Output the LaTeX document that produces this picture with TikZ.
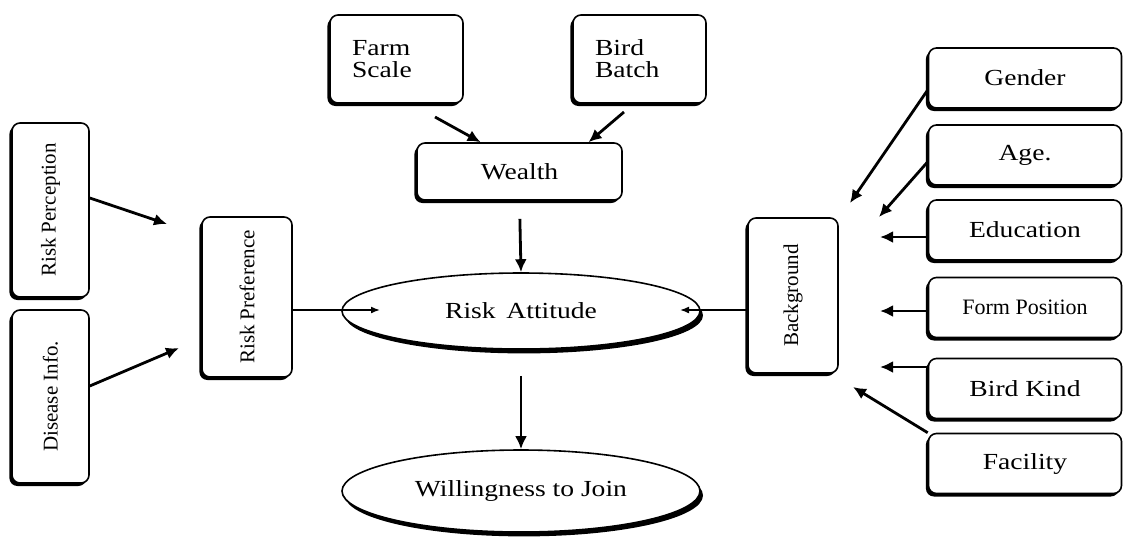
\documentclass[tikz,border=0pt]{standalone}
\usepackage{graphicx}
\usepackage{fontspec}
\setmainfont{Liberation Serif}[FakeStretch=1.2]
\newfontfamily\plainserif{Liberation Serif}
\usetikzlibrary{shapes.geometric,shadows,arrows.meta}
\begin{document}
\begin{tikzpicture}[x=.5pt,y=-.5pt,
        box/.style={draw,line width=.8pt,rounded corners=4pt,fill=white,inner sep=0pt,
            drop shadow={shadow xshift=-1.3pt,shadow yshift=-1.5pt,opacity=1,fill=black}},
        oval/.style={draw,ellipse,line width=.8pt,fill=white,inner sep=0pt,
            drop shadow={shadow xshift=1.5pt,shadow yshift=-2.2pt,opacity=1,fill=black}},
        txt/.style={font=\fontsize{11.5}{11}\selectfont},
        vtxt/.style={font=\plainserif\fontsize{10.5}{12}\selectfont},
        arr/.style={->,line width=1.4pt},
        thinarr/.style={->,line width=.8pt,>={Latex[length=4.5pt,width=3.5pt]}},
        >={Latex[length=6.5pt,width=6pt]}]
                \path[use as bounding box,fill=white] (0,0) rectangle (1126,543);
                \node[box,minimum width=66.5pt,minimum height=44pt,text width=44.5pt,align=left,txt] (scale) at (396.5,59) {Farm\\Scale};
                \node[box,minimum width=66.5pt,minimum height=44pt,text width=44.5pt,align=left,txt] (batch) at (639.5,59) {Bird\\Batch};
                \node[box,minimum width=102.5pt,minimum height=28.5pt,txt] (wealth) at (519.5,171.5) {Wealth};
                \node[oval,minimum width=179pt,minimum height=38pt,txt] (att) at (521,311) {Risk\, Attitude};
                \node[oval,minimum width=179pt,minimum height=41pt,txt] (join) at (521,491) {Willingness to Join};
                \node[box,minimum width=38.5pt,minimum height=87pt,vtxt] (perc) at (50.5,210) {\rotatebox{90}{Risk Perception}};
                \node[box,minimum width=38.5pt,minimum height=86.5pt,vtxt] (dis) at (50.5,396.5) {\rotatebox{90}{Disease Info.}};
                \node[box,minimum width=45pt,minimum height=80pt,vtxt] (pref) at (247,297) {\rotatebox{90}{Risk Preference}};
                \node[box,minimum width=45pt,minimum height=77.5pt,vtxt] (bg) at (793,295.5) {\rotatebox{90}{Background}};
                \node[box,minimum width=96.5pt,minimum height=30pt,txt] (gender) at (1025,78) {Gender};
                \node[box,minimum width=96.5pt,minimum height=30pt,txt] (age) at (1025,155) {Age.};
                \node[box,minimum width=96.5pt,minimum height=30pt,txt] (edu) at (1025,230) {Education};
                \node[box,minimum width=96.5pt,minimum height=30pt,font=\plainserif\fontsize{11}{12}\selectfont] (pos) at (1025,307.5) {Form Position};
                \node[box,minimum width=96.5pt,minimum height=30pt,txt] (kind) at (1025,388.5) {Bird Kind};
                \node[box,minimum width=96.5pt,minimum height=30pt,txt] (fac) at (1025,463.5) {Facility};
                \coordinate (p1) at (167,224);
                \coordinate (d1) at (179,348);
                \coordinate (s1) at (435,117);
                \coordinate (b1) at (624,112);
                \coordinate (a1) at (380,310);
                \coordinate (a2) at (680,310);
                \coordinate (g1) at (850,203);
                \coordinate (y1) at (879,217);
                \coordinate (e1) at (880,237);
                \coordinate (o1) at (880,311);
                \coordinate (k1) at (880,367);
                \coordinate (f1) at (853,387);
                \draw[arr] (perc.17) -- (p1);
                \draw[arr] (dis.15) -- (d1);
                \draw[arr] (s1) -- (wealth.143);
                \draw[arr] (b1) -- (wealth.23);
                \draw[arr,shorten <=9pt] (wealth.south) -- (att.north);
                \draw[arr,shorten <=13pt] (att.south) -- (join.north);
                \draw[thinarr] (pref.east |- a1) -- (a1);
                \draw[thinarr] (bg.west |- a2) -- (a2);
                \draw[arr] (gender.187) -- (g1);
                \draw[arr] (age.184) -- (y1);
                \draw[arr] (edu.west |- e1) -- (e1);
                \draw[arr] (pos.west |- o1) -- (o1);
                \draw[arr] (kind.west |- k1) -- (k1);
                \draw[arr] (fac.north west) -- (f1);
\end{tikzpicture}
\end{document}
